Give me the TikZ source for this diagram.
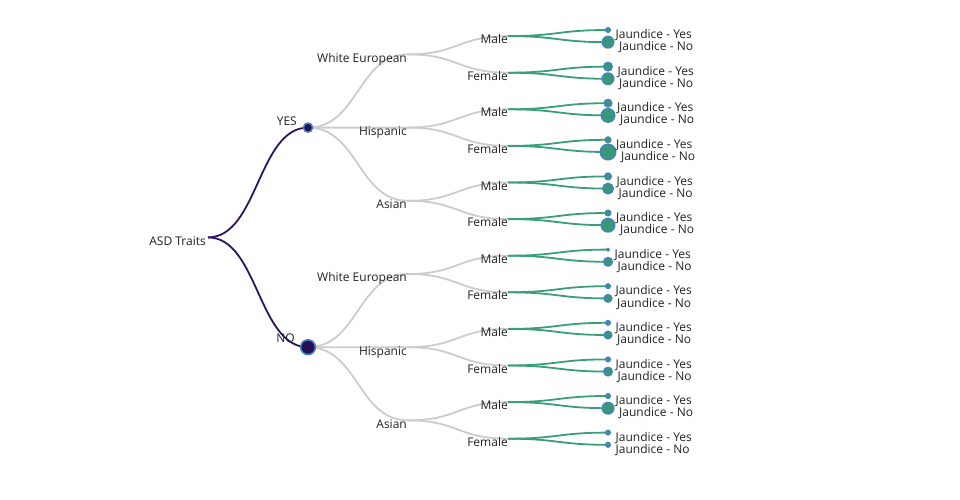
\documentclass[tikz,border=0pt]{standalone}
\usepackage{fontspec}
\setmainfont{Open Sans}
\definecolor{purplelinkc}{RGB}{45,20,95}
\definecolor{nodefillc}{RGB}{36,16,88}
\definecolor{strokec}{RGB}{70,130,190}
\definecolor{greyc}{RGB}{204,204,204}
\definecolor{greenc}{RGB}{58,158,125}
\definecolor{leaffillc}{RGB}{55,152,120}
\definecolor{textc}{RGB}{34,34,34}
\begin{document}
\begin{tikzpicture}[x=1pt,y=-1pt,
  purplelink/.style={draw=purplelinkc, line width=1.8pt},
  greylink/.style={draw=greyc, line width=1.8pt},
  greenlink/.style={draw=greenc, line width=1.8pt},
  innernode/.style={fill=nodefillc, draw=strokec, line width=1.5pt},
  leafnode/.style={fill=leaffillc, draw=strokec, line width=1.5pt},
  lbl/.style={inner sep=0pt, text=textc, font=\fontsize{12}{14}\selectfont}]
\path[use as bounding box] (0,0) rectangle (960,500);
\coordinate (root) at (208,237.4);
\coordinate (yes) at (308,127.6);
\coordinate (no) at (308,347.2);
\foreach \j in {0,...,5} {
  \coordinate (e\j) at (408,{54.4+73.2*\j});
}
\foreach \k in {0,...,11} {
  \coordinate (g\k) at (508,{36.1+36.6*\k});
  \coordinate (ly\k) at (608,{30+36.6*\k});
  \coordinate (ln\k) at (608,{42.2+36.6*\k});
}
% links
\foreach \t in {yes,no}
  \draw[purplelink] (root) .. controls +(50,0) and +(-50,0) .. (\t);
\foreach \j in {0,1,2}
  \draw[greylink] (yes) .. controls +(50,0) and +(-50,0) .. (e\j);
\foreach \j in {3,4,5}
  \draw[greylink] (no) .. controls +(50,0) and +(-50,0) .. (e\j);
\foreach \j [evaluate=\j as \a using int(2*\j), evaluate=\j as \b using int(2*\j+1)] in {0,...,5} {
  \draw[greylink] (e\j) .. controls +(50,0) and +(-50,0) .. (g\a);
  \draw[greylink] (e\j) .. controls +(50,0) and +(-50,0) .. (g\b);
}
\foreach \k in {0,...,11} {
  \draw[greenlink] (g\k) .. controls +(50,0) and +(-50,0) .. (ly\k);
  \draw[greenlink] (g\k) .. controls +(50,0) and +(-50,0) .. (ln\k);
}
% inner circles
\draw[innernode] (yes) circle[radius=4.6pt];
\draw[innernode] (no) circle[radius=7.4pt];
% leaves
\foreach \k/\ry/\rn in {0/3/6.5,1/5/6.5,2/4.5/7.5,3/3.5/8.5,4/4/6,5/3.5/7.5,6/2/5,7/3/4.5,8/3/4.5,9/3/5,10/3/6.5,11/3/3} {
  \draw[leafnode] (ly\k) circle[radius={\ry-0.75}];
  \draw[leafnode] (ln\k) circle[radius={\rn-0.75}];
  \node[lbl, anchor=base west] (tly\k) at ([shift={(\ry+4.5,8.6)}]ly\k) {Jaundice - Yes};
  \node[lbl, anchor=base west] (tln\k) at ([shift={(\rn+4.5,8.6)}]ln\k) {Jaundice - No};
}
% labels
\node[lbl, anchor=base east] (troot) at ([shift={(-2,7.8)}]root) {ASD Traits};
\node[lbl, anchor=base east] (tyes) at ([shift={(-11,-2)}]yes) {YES};
\node[lbl, anchor=base east] (tno) at ([shift={(-13,-4.5)}]no) {NO};
\foreach \j/\name in {0/White European,1/Hispanic,2/Asian,3/White European,4/Hispanic,5/Asian}
  \node[lbl, anchor=base east] (te\j) at ([shift={(-1,7.8)}]e\j) {\name};
\foreach \k in {0,2,4,6,8,10}
  \node[lbl, anchor=base east] (tg\k) at ([shift={(0,7.5)}]g\k) {Male};
\foreach \k in {1,3,5,7,9,11}
  \node[lbl, anchor=base east] (tg\k) at ([shift={(0,7.5)}]g\k) {Female};
\end{tikzpicture}
\end{document}
